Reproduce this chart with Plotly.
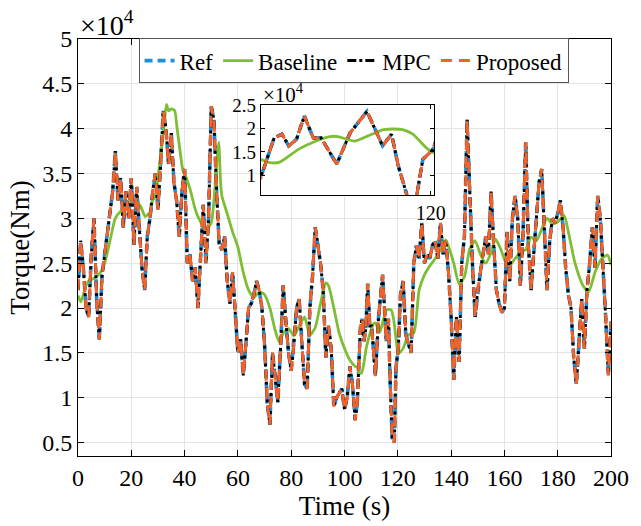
import plotly.graph_objects as go

# ---- data (torque in units of 1e4 Nm) ----
ref_t = [0, 1, 2, 3, 4, 5, 6, 7, 8, 9, 10, 11, 12, 13, 14, 15, 16, 17, 18, 19,
         20, 21, 22, 23, 24, 25, 26, 27, 28, 29, 30, 31, 32, 33, 34, 35, 36, 37, 38, 39,
         40, 41, 42, 43, 44, 45, 46, 47, 48, 49, 50, 51, 52, 53, 54, 55, 56, 57, 58, 59,
         60, 61, 62, 63, 64, 65, 66, 67, 68, 69, 70, 71, 72, 73, 74, 75, 76, 77, 78, 79,
         80, 81, 82, 83, 84, 85, 86, 87, 88, 89, 90, 91, 92, 93, 94, 95, 96, 97, 98, 99,
         100, 101, 102, 103, 104, 104.8, 106.0, 106.7, 107.3, 108.0, 108.7, 109.5, 110.2,
         111.6, 112.8, 114.3, 115.7, 116.5, 117.1, 117.9, 118.7, 119.3, 120.2,
         121, 122, 123, 124, 125, 126, 127, 128, 129, 130, 131, 132, 133, 134, 135, 136,
         137, 138, 139, 140, 141, 142, 143, 144, 145, 146, 147, 148, 149, 150, 151, 152,
         153, 154, 155, 156, 157, 158, 159, 160, 161, 162, 163, 164, 165, 166, 167, 168,
         169, 170, 171, 172, 173, 174, 175, 176, 177, 178, 179, 180, 181, 182, 183, 184,
         185, 186, 187, 188, 189, 190, 191, 192, 193, 194, 195, 196, 197, 198, 199, 200]
ref_v = [2.2, 2.75, 2.45, 2.0, 1.9, 2.6, 3.0, 2.1, 1.65, 2.35, 2.6, 2.85, 3.1, 3.3, 3.75, 3.2, 3.45, 2.9, 3.3, 3.0,
         3.45, 2.7, 3.35, 2.85, 2.45, 2.2, 2.8, 3.0, 3.3, 3.5, 3.1, 3.6, 4.2, 4.0, 3.6, 3.95, 3.4, 3.2, 2.8, 3.3,
         3.55, 2.5, 2.6, 2.3, 2.45, 2.0, 2.6, 3.15, 2.5, 3.0, 4.25, 4.1, 3.3, 2.7, 2.65, 2.8, 2.3, 2.05, 2.4, 2.0,
         1.5, 1.65, 1.25, 1.6, 2.0, 2.05, 2.15, 2.3, 2.2, 2.0, 1.6, 0.95, 0.7, 1.5, 1.2, 0.95, 1.55, 2.25, 1.85, 1.5,
         1.3, 1.6, 2.0, 2.1, 1.6, 1.15, 1.1, 2.0, 2.35, 2.9, 2.7, 2.5, 2.2, 1.45, 1.8, 1.55, 0.9, 1.0, 1.05, 1.1,
         0.87, 1.0, 1.35, 1.15, 0.75, 0.95, 1.8, 1.88, 1.63, 1.77, 2.27, 1.8, 1.8,
         1.24, 1.91, 2.37, 1.63, 1.88, 1.2, 0.55, 0.5, 1.34, 1.55,
         2.15, 2.3, 1.7, 1.6, 1.5, 2.5, 2.7, 2.55, 2.95, 2.5, 2.6, 2.55, 2.7, 2.75, 2.55, 2.95,
         2.6, 2.75, 2.4, 1.9, 1.2, 1.9, 1.4, 2.5, 2.8, 4.1, 3.2, 2.5, 1.9, 2.2, 2.4, 2.6,
         2.8, 2.6, 3.3, 2.7, 2.2, 2.05, 1.95, 2.0, 2.85, 2.3, 3.0, 3.25, 3.0, 2.25, 2.85, 3.85,
         2.7, 2.2, 2.6, 3.1, 3.4, 3.55, 2.9, 2.2, 2.75, 3.0, 2.95, 3.05, 3.2, 2.9, 2.45, 2.15,
         2.0, 1.45, 1.15, 1.7, 2.1, 1.55, 2.2, 2.5, 2.9, 2.45, 3.25, 3.0, 2.5, 1.9, 1.25, 1.85]
mpc_v = list(ref_v)
prop_v = list(ref_v)

base_t = [0, 1, 2, 3, 4, 6, 8, 10, 12, 14, 16, 18, 20.3, 23.4, 25.2, 27, 28, 29, 30.2, 32,
          33.2, 34, 35, 36.3, 37, 38.2, 39.4, 40, 42, 44, 45, 48, 50, 51, 52, 52.8, 53.5, 54,
          56, 58, 60, 62, 64, 66, 68, 70, 72, 74, 75.5, 77, 79, 81, 83, 85, 87, 89, 91, 93,
          94, 96, 98, 100, 102, 104, 104.8, 105.6, 106.5, 108.2, 109.7, 111.0, 111.7, 113.2,
          114.0, 115.8, 117.5, 118.4, 119.6, 120.2, 122, 124, 126, 128, 130, 132, 134, 136,
          138, 140, 141, 143, 145, 147, 149, 151, 153, 155, 156.6, 158.6, 160.5, 162, 164,
          166, 168, 170, 172, 174, 176, 178, 180, 182.4, 184, 186.5, 189.5, 191.6, 194, 196.5,
          198.7, 200]
base_v = [2.14, 2.07, 2.15, 2.25, 2.3, 2.33, 2.38, 2.5, 2.75, 3.0, 3.08, 3.12, 3.21, 3.14, 3.02, 3.07, 3.2, 3.25, 3.5, 3.95,
          4.27, 4.2, 4.22, 4.2, 4.05, 3.77, 3.53, 3.5, 3.33, 3.1, 3.02, 2.87, 2.95, 3.2, 3.6, 3.85, 3.4, 3.25,
          3.05, 2.85, 2.68, 2.4, 2.2, 2.12, 2.18, 2.15, 2.0, 1.75, 1.62, 1.72, 1.77, 1.69, 1.8, 1.9, 1.7, 1.78, 2.05, 2.28,
          2.25, 2.0, 1.72, 1.55, 1.42, 1.35, 1.34, 1.27, 1.28, 1.56, 1.73, 1.83, 1.83, 1.73,
          1.8, 1.98, 1.98, 1.88, 1.59, 1.49, 1.55, 1.7, 1.72, 2.2, 2.37, 2.47, 2.55, 2.65,
          2.76, 2.6, 2.5, 2.27, 2.35, 2.66, 2.75, 2.6, 2.5, 2.62, 2.77, 2.66, 2.51, 2.48, 2.55,
          2.62, 2.65, 2.79, 2.75, 2.88, 3.0, 2.94, 2.96, 3.03, 2.85, 2.5, 2.25, 2.18, 2.4, 2.55,
          2.59, 2.48]

y_ticks = [0.5, 1, 1.5, 2, 2.5, 3, 3.5, 4, 4.5, 5]
y_ticktext = ["0.5", "1", "1.5", "2", "2.5", "3", "3.5", "4", "4.5", "5"]
x_ticks = [0, 20, 40, 60, 80, 100, 120, 140, 160, 180, 200]
inset_y_ticks = [1, 1.5, 2, 2.5]
inset_y_text = ["1", "1.5", "2", "2.5"]
inset_x_ticks = [120]

FONT = "Times New Roman, Liberation Serif, serif"
C_REF = "#1F8FDB"
C_BASE = "#7DBE34"
C_MPC = "#000000"
C_PROP = "#F2622B"

fig = go.Figure()

def add_set(xa, ya, show):
    fig.add_trace(go.Scatter(x=ref_t, y=ref_v, mode="lines", name="Ref",
                             line=dict(color=C_REF, width=3.6, dash="8px,5px"),
                             xaxis=xa, yaxis=ya, showlegend=show))
    fig.add_trace(go.Scatter(x=base_t, y=base_v, mode="lines", name="Baseline",
                             line=dict(color=C_BASE, width=2.8, shape="spline", smoothing=0.6),
                             xaxis=xa, yaxis=ya, showlegend=show))
    fig.add_trace(go.Scatter(x=ref_t, y=mpc_v, mode="lines", name="MPC",
                             line=dict(color=C_MPC, width=3, dash="dashdot"),
                             xaxis=xa, yaxis=ya, showlegend=show))
    fig.add_trace(go.Scatter(x=ref_t, y=prop_v, mode="lines", name="Proposed",
                             line=dict(color=C_PROP, width=3, dash="11px,7px"),
                             xaxis=xa, yaxis=ya, showlegend=show))

add_set("x", "y", True)
add_set("x2", "y2", False)

axis_common = dict(showline=True, linecolor="black", linewidth=1, mirror="ticks",
                   ticks="inside", tickcolor="black", zeroline=False)

fig.update_layout(
    width=641, height=526,
    margin=dict(l=78, r=20, t=39, b=69),
    paper_bgcolor="white", plot_bgcolor="white",
    font=dict(family=FONT, color="black", size=22),
    xaxis=dict(domain=[0, 1], range=[0, 200], tickvals=x_ticks, ticklen=6,
               showgrid=True, gridcolor="#E4E4E4", gridwidth=1,
               tickfont=dict(size=24, family=FONT, color="black"),
               title=dict(text="Time (s)", font=dict(size=27, family=FONT, color="black"), standoff=4),
               **axis_common),
    yaxis=dict(domain=[0, 1], range=[0.35, 5], tickvals=y_ticks, ticktext=y_ticktext, ticklen=6,
               showgrid=True, gridcolor="#E4E4E4", gridwidth=1,
               tickfont=dict(size=24, family=FONT, color="black"),
               title=dict(text="Torque(Nm)", font=dict(size=27, family=FONT, color="black"), standoff=4),
               **axis_common),
    xaxis2=dict(domain=[0.3428, 0.668], anchor="y2", range=[104.8, 120.3], tickvals=inset_x_ticks,
                ticklen=4, showgrid=False, tickfont=dict(size=20, family=FONT, color="black"),
                **axis_common),
    yaxis2=dict(domain=[0.627, 0.841], anchor="x2", range=[0.585, 2.5], tickvals=inset_y_ticks,
                ticktext=inset_y_text, ticklen=4, showgrid=False,
                tickfont=dict(size=19, family=FONT, color="black"), **axis_common),
    legend=dict(orientation="h", x=0.517, xanchor="center", y=1.002, yanchor="top",
                bgcolor="white", bordercolor="#555555", borderwidth=1,
                font=dict(size=23, family=FONT, color="black"), itemwidth=30, tracegroupgap=0),
    annotations=[
        dict(text="×10<sup>4</sup>", xref="paper", yref="paper", x=0.0, y=1.0,
             xanchor="left", yanchor="bottom", showarrow=False, yshift=-4,
             font=dict(size=28, family=FONT, color="black")),
        dict(text="×10<sup>4</sup>", xref="paper", yref="paper", x=0.3428, y=0.841,
             xanchor="left", yanchor="bottom", showarrow=False, yshift=-4,
             font=dict(size=21, family=FONT, color="black")),
    ],
)

fig.write_html("out.html")
